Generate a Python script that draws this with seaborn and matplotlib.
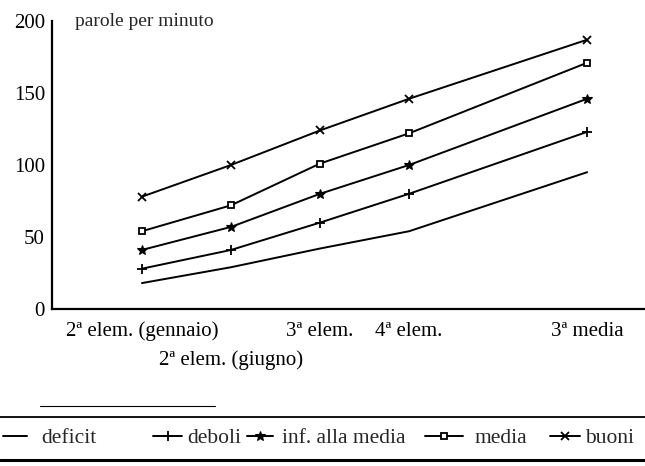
import numpy as np
import pandas as pd
import seaborn as sns
import matplotlib.pyplot as plt
from matplotlib.lines import Line2D

# classi sull'asse x (posizione in anni scolastici)
classi = ["2ª elem. (gennaio)", "2ª elem. (giugno)", "3ª elem.", "4ª elem.", "3ª media"]
posizioni = [0, 1, 2, 3, 5]

# parole per minuto
deficit = [18, 29, 42, 54, 95]
deboli = [28, 41, 60, 80, 123]
inf_media = [41, 57, 80, 100, 146]
media = [54, 72, 101, 122, 171]
buoni = [78, 100, 124, 146, 187]

gruppi = ["deficit", "deboli", "inf. alla media", "media", "buoni"]
serie = [deficit, deboli, inf_media, media, buoni]

yticks = [0, 50, 100, 150, 200]

#-----------------------------------------------------------------------#
stili = {
    "deficit": dict(marker=None),
    "deboli": dict(marker="+", ms=7, mew=1.3, mec="black"),
    "inf. alla media": dict(marker="*", ms=7, mew=0.8, mec="black", mfc="black"),
    "media": dict(marker="s", ms=5, mew=1.3, mfc="white", mec="black"),
    "buoni": dict(marker="x", ms=5.5, mew=1.3, mec="black"),
}

sns.set_style("white")
plt.rcParams["font.family"] = ["Liberation Serif", "DejaVu Serif"]

fig = plt.figure(figsize=(6.45, 4.66), dpi=100)
ax = fig.add_axes([52 / 645, 1 - 309 / 466, (645 - 52) / 645, (309 - 21) / 466])

for nome, valori in zip(gruppi, serie):
    sns.lineplot(x=posizioni, y=valori, ax=ax, color="black", lw=1.4,
                 label=nome, legend=False, **stili[nome])

ax.set_xlim(-1.01, 5.65)
ax.set_ylim(0, 200)
ax.set_yticks(yticks)
ax.set_yticklabels([str(v) for v in yticks], fontsize=15)

# la "giugno" va sulla seconda riga: uso un tick minore con pad maggiore
maggiori = [p for i, p in enumerate(posizioni) if i != 1]
ax.set_xticks(maggiori)
ax.set_xticklabels([c for i, c in enumerate(classi) if i != 1], fontsize=15)
ax.set_xticks([posizioni[1]], minor=True)
ax.set_xticklabels([classi[1]], minor=True, fontsize=15)

ax.tick_params(axis="y", direction="in", length=5, width=1, pad=5, colors="black")
ax.tick_params(axis="x", which="major", length=0, pad=9, colors="black")
ax.tick_params(axis="x", which="minor", length=0, pad=30, colors="black")
ax.set_xlabel("")
ax.set_ylabel("")

sns.despine(ax=ax)
for s in ["left", "bottom"]:
    ax.spines[s].set_linewidth(1.6)
    ax.spines[s].set_color("black")

ax.text(-0.75, 200, "parole per minuto", fontsize=14, ha="left", va="center")

# legenda in basso, una voce per volta
leg_x = [3, 153, 247, 425, 550]
leg_len = [1.1, 1.35, 1.2, 1.75, 1.4]
leg_pad = [0.7, 0.25, 0.42, 0.56, 0.25]
for nome, x0, hl, tp in zip(gruppi, leg_x, leg_len, leg_pad):
    h = Line2D([], [], color="black", lw=1.4, **stili[nome])
    fig.legend(handles=[h], labels=[nome], loc="center left",
               bbox_to_anchor=(x0 / 645, 1 - 438 / 466), frameon=False,
               fontsize=15.5, handlelength=hl, handletextpad=tp,
               borderpad=0, borderaxespad=0, numpoints=1)

# righe orizzontali della tabella
fig.add_artist(Line2D([40 / 645, 215 / 645], [1 - 406 / 466] * 2, color="black", lw=0.8))
fig.add_artist(Line2D([0, 1], [1 - 417 / 466] * 2, color="black", lw=1.3))
fig.add_artist(Line2D([0, 1], [1 - 460 / 466] * 2, color="black", lw=2.2))

plt.savefig("out.png", dpi=100, facecolor="white")
